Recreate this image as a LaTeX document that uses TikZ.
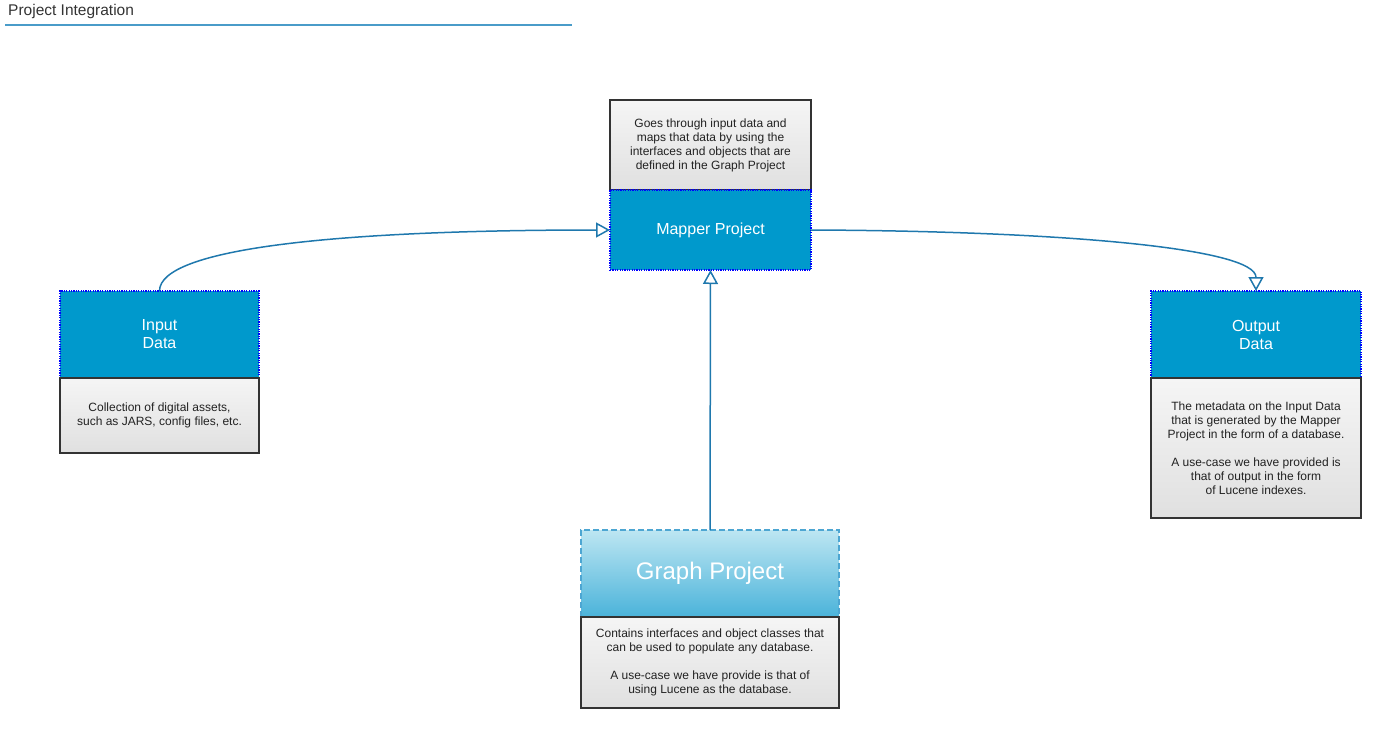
\documentclass[tikz,border=0pt]{standalone}
\usepackage{fontspec}
\setmainfont{Liberation Sans}
\usepackage{xcolor}
\usepackage{tikz}
\usetikzlibrary{positioning}
\usetikzlibrary{arrows.meta}
\definecolor{headblue}{HTML}{0099CC}
\definecolor{linkblue}{HTML}{1F78AD}
\definecolor{titleblue}{HTML}{4A9CC9}
\definecolor{graphtop}{HTML}{BDE6F2}
\definecolor{graphbot}{HTML}{4AB3DA}
\definecolor{graphedge}{HTML}{4DA6D2}
\definecolor{desctop}{HTML}{F5F5F5}
\definecolor{descbot}{HTML}{E0E0E0}
\definecolor{desctext}{HTML}{222222}
\tikzstyle{headbox} = [rectangle, fill=headblue, draw=blue, line width=1.5pt, dash pattern=on 1.2pt off 1.2pt, text=white, align=center, inner sep=0pt, outer sep=0pt, font=\fontsize{16}{18}\selectfont]
\tikzstyle{graphbox} = [rectangle, top color=graphtop, bottom color=graphbot, draw=graphedge, line width=1.2pt, dash pattern=on 6pt off 3pt, text=white, align=center, inner sep=0pt, outer sep=0pt, font=\fontsize{24}{28}\selectfont]
\tikzstyle{descbox} = [rectangle, top color=desctop, bottom color=descbot, draw=black!80, line width=1.5pt, text=desctext, align=center, inner sep=0pt, outer sep=0pt, font=\fontsize{12}{14}\selectfont]
\tikzstyle{link} = [draw=linkblue, line width=1.5pt, -{Triangle[open, length=14pt, width=15pt]}]

\begin{document}
\begin{tikzpicture}[x=1pt, y=-1pt]
        \useasboundingbox (0,0) rectangle (1386,728);

        % Title
        \node[anchor=base west, inner sep=0pt, text=black!80, font=\fontsize{15.5}{18}\selectfont] (title) at (8,16) {Project Integration};
        \draw[titleblue, line width=2pt] (5,25) -- (572,25);

        % Boxes
        \node[descbox, minimum width=201, minimum height=90] (mapperdesc) at (710.5,145) {Goes through input data and\\maps that data by using the\\interfaces and objects that are\\defined in the Graph Project};
        \node[headbox, minimum width=201, minimum height=80, below=0pt of mapperdesc] (mapperhead) {Mapper Project};

        \node[headbox, minimum width=199, minimum height=87] (inputhead) at (159.5,334.5) {Input\\Data};
        \node[descbox, minimum width=199, minimum height=75, below=0pt of inputhead] (inputdesc) {Collection of digital assets,\\such as JARS, config files, etc.};

        \node[headbox, minimum width=210, minimum height=87] (outputhead) at (1256,334.5) {Output\\Data};
        \node[descbox, minimum width=210, minimum height=140, below=0pt of outputhead] (outputdesc) {The metadata on the Input Data\\that is generated by the Mapper\\Project in the form of a database.\\[14pt]A use-case we have provided is\\that of output in the form\\of Lucene indexes.};

        \node[graphbox, minimum width=258, minimum height=87] (graphhead) at (710,573.5) {Graph Project};
        \node[descbox, minimum width=258, minimum height=91, below=0pt of graphhead] (graphdesc) {Contains interfaces and object classes that\\can be used to populate any database.\\[14pt]A use-case we have provide is that of\\using Lucene as the database.};

        % Links
        \draw[link] (inputhead.north) .. controls (159.5,248) and (340,230) .. (mapperhead.west);
        \draw[link] (mapperhead.east) .. controls (1060,231) and (1256,248) .. (outputhead.north);
        \draw[link] (graphhead.north) -- (mapperhead.south);
\end{tikzpicture}
\end{document}
